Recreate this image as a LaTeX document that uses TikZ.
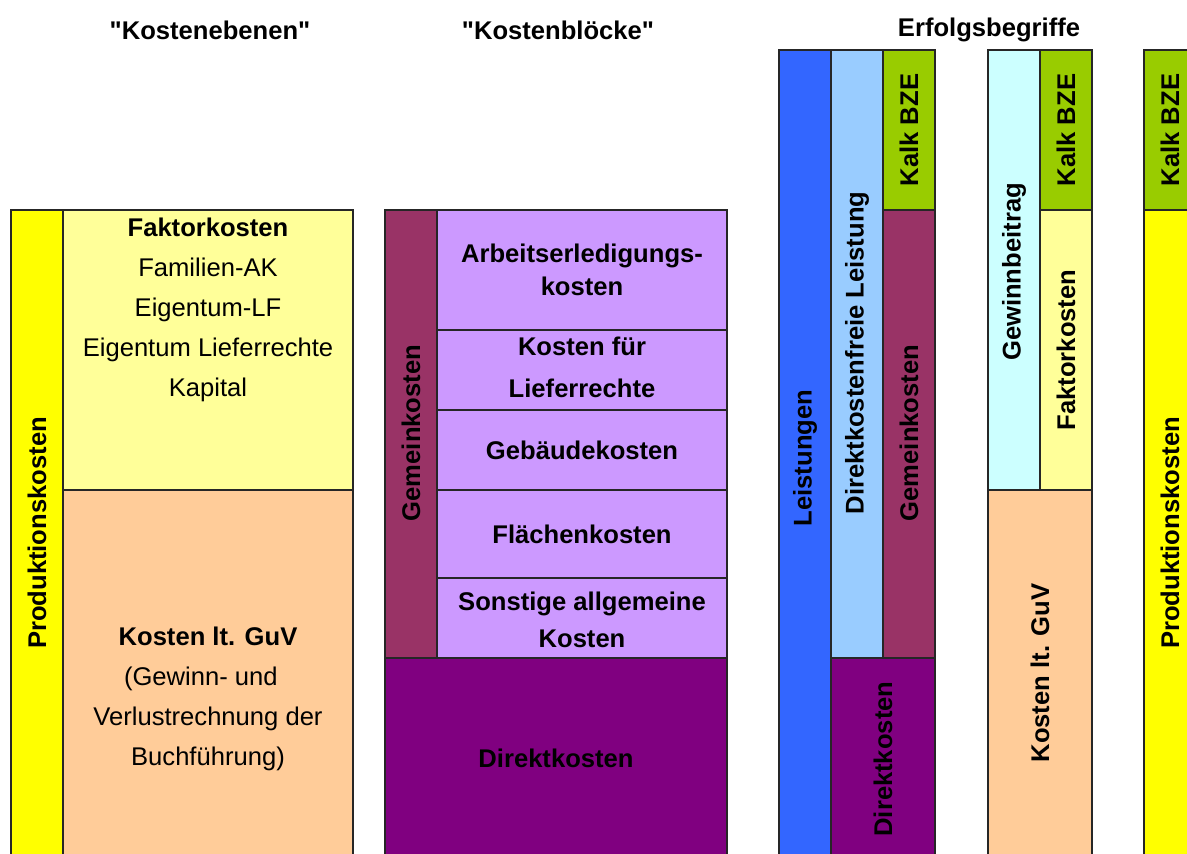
\documentclass[tikz,border=0pt]{standalone}
\usepackage{fontspec}
\setmainfont{Liberation Sans}[Ligatures=TeXOff]

\definecolor{cYellow}{HTML}{FFFF00}
\definecolor{cLightYellow}{HTML}{FFFF99}
\definecolor{cPeach}{HTML}{FFCC99}
\definecolor{cMaroon}{HTML}{993366}
\definecolor{cLavender}{HTML}{CC99FF}
\definecolor{cPurple}{HTML}{800080}
\definecolor{cBlue}{HTML}{3366FF}
\definecolor{cLightBlue}{HTML}{99CCFF}
\definecolor{cGreen}{HTML}{99CC00}
\definecolor{cCyan}{HTML}{CCFFFF}

\begin{document}
\begin{tikzpicture}[x=0.5pt,y=0.5pt,yscale=-1,xscale=1,
  block/.style={draw=black!85,line width=0.75pt},
  txt/.style={font=\fontsize{12.8}{20}\selectfont,align=center,inner sep=0pt},
  btxt/.style={txt,font=\fontsize{12.8}{20}\selectfont\bfseries},
  vtxt/.style={btxt,rotate=90}]
\clip (0,0) rectangle (1187,853);

%Column: Kostenebenen
\filldraw[block,fill=cYellow] (11,210) rectangle (63,870);
\filldraw[block,fill=cLightYellow] (63,210) rectangle (353,490);
\filldraw[block,fill=cPeach] (63,490) rectangle (353,870);

%Column: Kostenbloecke
\filldraw[block,fill=cMaroon] (385,210) rectangle (437,658);
\filldraw[block,fill=cLavender] (437,210) rectangle (727,330);
\filldraw[block,fill=cLavender] (437,330) rectangle (727,410);
\filldraw[block,fill=cLavender] (437,410) rectangle (727,490);
\filldraw[block,fill=cLavender] (437,490) rectangle (727,578);
\filldraw[block,fill=cLavender] (437,578) rectangle (727,658);
\filldraw[block,fill=cPurple] (385,658) rectangle (727,870);

%Column: Erfolgsbegriffe (Leistungen)
\filldraw[block,fill=cBlue] (779,50) rectangle (831,870);
\filldraw[block,fill=cLightBlue] (831,50) rectangle (883,658);
\filldraw[block,fill=cGreen] (883,50) rectangle (935,210);
\filldraw[block,fill=cMaroon] (883,210) rectangle (935,658);
\filldraw[block,fill=cPurple] (831,658) rectangle (935,870);

%Column: Erfolgsbegriffe (Gewinnbeitrag)
\filldraw[block,fill=cCyan] (988,50) rectangle (1040,490);
\filldraw[block,fill=cGreen] (1040,50) rectangle (1092,210);
\filldraw[block,fill=cLightYellow] (1040,210) rectangle (1092,490);
\filldraw[block,fill=cPeach] (988,490) rectangle (1092,870);

%Column: Erfolgsbegriffe (Produktionskosten)
\filldraw[block,fill=cGreen] (1144,50) rectangle (1196,210);
\filldraw[block,fill=cYellow] (1144,210) rectangle (1196,870);

% Text Node
\node[btxt] (ttlEbenen) at (210,30) {"Kostenebenen"};
\node[btxt] (ttlBloecke) at (558,30) {"Kostenblöcke"};
\node[btxt] (ttlErfolg) at (989,30) {Erfolgsbegriffe};

% Text Node
\node[vtxt] (prodL) at (37,533) {Produktionskosten};
\node[txt] (faktorL) at (208,310) {\textbf{Faktorkosten}\\Familien-AK\\Eigentum-LF\\Eigentum Lieferrechte\\Kapital};
\node[txt] (guvL) at (208,699) {\textbf{Kosten lt. GuV}\\(Gewinn- und\hphantom{n}\\Verlustrechnung der\\Buchführung)};

% Text Node
\node[vtxt] (gemeinB) at (411,433) {Gemeinkosten};
\node[btxt,font=\fontsize{12.8}{16.5}\selectfont\bfseries] (arbeitB) at (582,270) {Arbeitserledigungs-\\kosten};
\node[btxt,font=\fontsize{12.8}{21}\selectfont\bfseries] (lieferB) at (582,367) {Kosten für\\Lieferrechte};
\node[btxt] (gebaeudeB) at (582,450) {Gebäudekosten};
\node[btxt] (flaecheB) at (582,534) {Flächenkosten};
\node[btxt,font=\fontsize{12.8}{18.5}\selectfont\bfseries] (sonstB) at (582,620) {Sonstige allgemeine\\Kosten};
\node[btxt] (direktB) at (556,758) {Direktkosten};

% Text Node
\node[vtxt] (leistE) at (805,458) {Leistungen};
\node[vtxt] (dflE) at (857,353) {Direktkostenfreie Leistung};
\node[vtxt] (bzeE) at (909,130) {Kalk BZE};
\node[vtxt] (gemeinE) at (909,433) {Gemeinkosten};
\node[vtxt] (direktE) at (883,759) {Direktkosten};

% Text Node
\node[vtxt] (gewinnG) at (1014,272) {Gewinnbeitrag};
\node[vtxt] (bzeG) at (1066,130) {Kalk BZE};
\node[vtxt] (faktorG) at (1066,350) {Faktorkosten};
\node[vtxt] (guvG) at (1040,673) {Kosten lt. GuV};

% Text Node
\node[vtxt] (bzeP) at (1170,130) {Kalk BZE};
\node[vtxt] (prodP) at (1170,533) {Produktionskosten};

\end{tikzpicture}
\end{document}
